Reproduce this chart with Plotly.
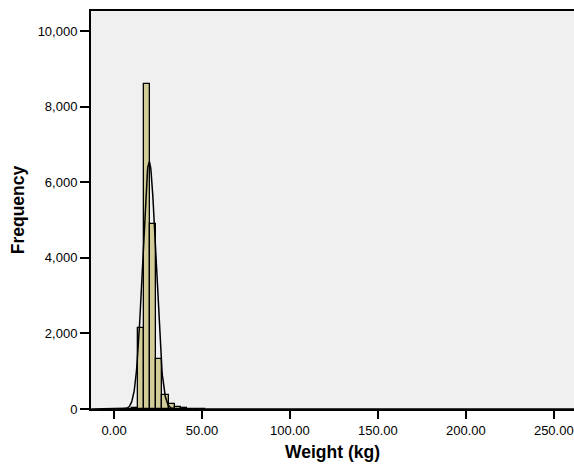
import numpy as np
import plotly.graph_objects as go

# Histogram bins (left edges, kg) and frequencies
bin_width = 3.5
bin_left = [6.5, 10.0, 13.5, 17.0, 20.5, 24.0, 27.5, 31.0, 34.5, 38.0, 41.5, 45.0, 48.5]
counts = [5, 30, 2130, 8600, 4900, 1314, 370, 124, 45, 20, 10, 5, 3]

# Fitted normal curve parameters
curve_mean = 20.0
curve_sd = 3.75
n_total = sum(counts)

x_ticks = [0, 50, 100, 150, 200, 250]
y_ticks = [0, 2000, 4000, 6000, 8000, 10000]

bar_centers = [b + bin_width / 2 for b in bin_left]

xs = np.linspace(-13, 262, 1400)
ys = n_total * bin_width / (curve_sd * np.sqrt(2 * np.pi)) * np.exp(-0.5 * ((xs - curve_mean) / curve_sd) ** 2)

fig = go.Figure()
fig.add_trace(go.Bar(
    x=bar_centers, y=counts, width=bin_width,
    marker=dict(color="#D2CD98", line=dict(color="black", width=1.3)),
    showlegend=False, hoverinfo="skip",
))
fig.add_trace(go.Scatter(
    x=xs, y=ys, mode="lines",
    line=dict(color="black", width=1.5),
    showlegend=False, hoverinfo="skip",
))

font_family = "Liberation Sans, Arial, sans-serif"
fig.update_layout(
    width=574, height=465,
    autosize=False,
    margin=dict(l=91, r=0, t=11, b=56),
    paper_bgcolor="white",
    plot_bgcolor="#F0F0F0",
    font=dict(family=font_family, size=13, color="black"),
    bargap=0,
    xaxis=dict(
        range=[-13.1, 261.5],
        automargin=False,
        tickvals=x_ticks,
        ticktext=[f"{v:.2f}" for v in x_ticks],
        ticks="outside", ticklen=8, tickwidth=1.5, tickcolor="black",
        showline=True, linecolor="black", linewidth=2, mirror=True,
        showgrid=False, zeroline=False,
        title=dict(text="<b>Weight (kg)</b>", font=dict(size=17.5), standoff=9),
        tickfont=dict(size=13),
    ),
    yaxis=dict(
        range=[0, 10530],
        automargin=False,
        tickvals=y_ticks,
        ticktext=[f"{v:,}" for v in y_ticks],
        ticks="outside", ticklen=9, tickwidth=1.5, tickcolor="black",
        showline=True, linecolor="black", linewidth=2,
        showgrid=False, zeroline=False,
        title=dict(text="<b>Frequency</b>", font=dict(size=17.5), standoff=9),
        tickfont=dict(size=13),
    ),
)

fig.write_html(
    "out.html",
    config={"responsive": False, "displayModeBar": False},
    post_script="document.body.style.margin='0';document.body.style.overflow='hidden';",
)
